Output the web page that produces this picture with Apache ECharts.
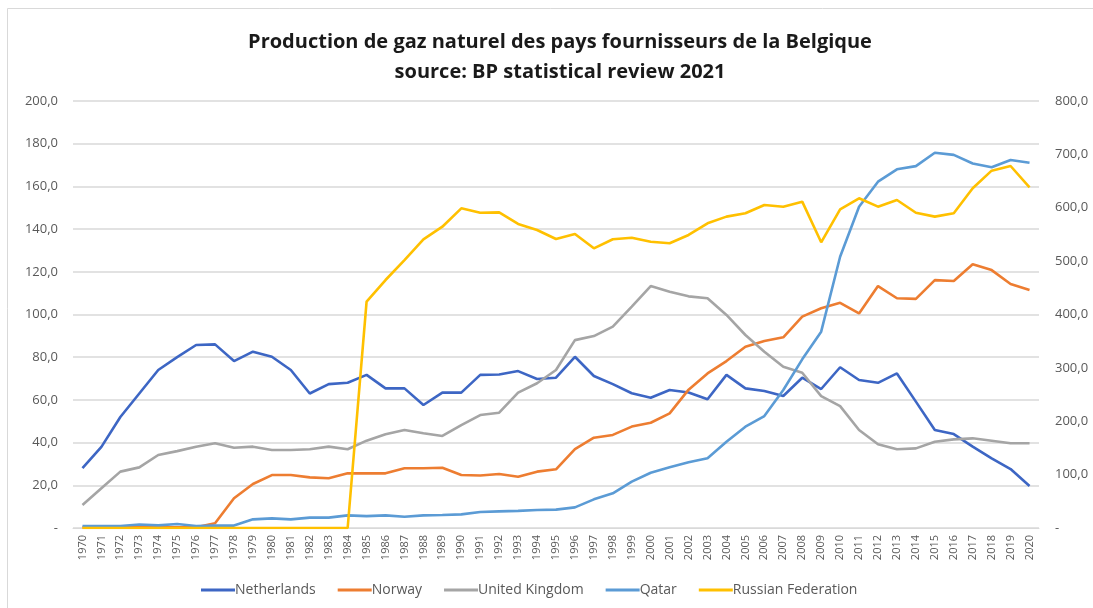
<!DOCTYPE html>
<html>
<head>
<meta charset="utf-8">
<script src="https://cdn.jsdelivr.net/npm/echarts@6/dist/echarts.min.js"></script>
<style>
  html, body { margin: 0; padding: 0; background: #fff; }
  #chart { width: 1093px; height: 608px; }
</style>
</head>
<body>
<div id="chart"></div>
<script>
// years 1970..2020
const years = []
for (let y = 1970; y <= 2020; y++) years.push(String(y))

// left axis (0-200)
const netherlands = [28.0, 38.0, 52.0, 63.0, 74.0, 80.0, 85.7, 86.0, 78.2, 82.6, 80.2, 74.0, 63.0, 67.4, 68.0, 71.7,
  65.4, 65.4, 57.6, 63.4, 63.4, 71.7, 71.9, 73.5, 69.8, 70.4, 80.2, 71.2, 67.4, 63.1, 61.0, 64.6, 63.5,
  60.3, 71.7, 65.4, 64.2, 61.8, 70.4, 65.1, 75.3, 69.3, 68.0, 72.4, 59.2, 45.9, 44.0, 38.1, 32.6, 27.6, 19.7]
const norway = [0.3, 0.3, 0.3, 0.3, 0.3, 0.3, 0.3, 2.2, 13.9, 20.6, 24.8, 24.8, 23.7, 23.3, 25.6, 25.6,
  25.6, 28.0, 28.0, 28.2, 24.8, 24.6, 25.3, 24.0, 26.4, 27.5, 36.9, 42.3, 43.6, 47.5, 49.3, 53.7, 64.8,
  72.4, 78.2, 84.9, 87.6, 89.3, 99.0, 102.9, 105.5, 100.5, 113.3, 107.6, 107.3, 116.1, 115.7, 123.5, 120.8, 114.3, 111.5]
const unitedKingdom = [10.8, 18.6, 26.4, 28.4, 34.2, 36.0, 38.1, 39.7, 37.6, 38.1, 36.5, 36.5, 36.9, 38.1, 36.9, 40.9,
  43.9, 45.9, 44.4, 43.1, 48.2, 52.9, 54.0, 63.4, 67.8, 74.0, 88.0, 89.9, 94.3, 103.7, 113.3, 110.7, 108.5,
  107.6, 99.8, 90.4, 82.6, 75.5, 72.7, 61.8, 57.1, 45.9, 39.2, 36.9, 37.3, 40.4, 41.5, 42.0, 40.9, 39.7, 39.7]

// right axis (0-800)
const qatar = [3.7, 3.7, 3.7, 6.5, 5.0, 7.5, 3.7, 4.5, 4.5, 16.2, 18.0, 16.2, 19.4, 19.5, 23.7, 22.3,
  23.7, 21.2, 23.7, 24.4, 25.6, 30.0, 31.2, 32.0, 33.7, 34.4, 38.7, 53.7, 65.0, 86.8, 103.6, 113.7, 123.0,
  130.6, 161.7, 189.8, 209.8, 258.5, 316.0, 367.8, 508.3, 602.0, 648.8, 672.0, 678.0, 703.0, 699.0, 683.0, 675.8, 689.5, 684.4]
const russia = [0, 0, 0, 0, 0, 0, 0, 0, 0, 0, 0, 0, 0, 0, 0, 424.0,
  464.6, 502.0, 540.9, 564.5, 598.9, 590.7, 591.4, 569.6, 558.3, 541.4, 550.8, 524.0, 540.9, 543.9, 536.4, 533.4, 549.0,
  570.9, 583.4, 589.6, 605.2, 602.0, 611.4, 535.3, 597.1, 617.7, 602.0, 614.5, 590.7, 583.4, 589.6, 636.5, 669.5, 678.2, 638.3]

const leftTicks = { min: 0, max: 200, interval: 20 }
const rightTicks = { min: 0, max: 800, interval: 100 }

const fontFamily = '"Open Sans", "Liberation Sans", sans-serif'
const textColor = '#595959'

function fmt(v) {
  return v === 0 ? '-' : v.toFixed(1).replace('.', ',')
}

const chart = echarts.init(document.getElementById('chart'))

function line(name, data, color, yAxisIndex) {
  return {
    name,
    type: 'line',
    data,
    yAxisIndex,
    symbol: 'none',
    smooth: false,
    lineStyle: { color, width: 2.6 },
    itemStyle: { color },
  }
}

chart.setOption({
  animation: false,
  backgroundColor: '#fff',
  graphic: [{
    type: 'rect',
    shape: { x: 7.5, y: 8.5, width: 1200, height: 700 },
    style: { fill: 'none', stroke: '#d9d9d9', lineWidth: 1 },
    silent: true,
  }],
  title: {
    text: 'Production de gaz naturel des pays fournisseurs de la Belgique\nsource: BP statistical review 2021',
    left: 555,
    textAlign: 'center',
    top: 22,
    textStyle: {
      fontFamily,
      fontSize: 20,
      fontWeight: 'bold',
      color: '#1a1a1a',
      lineHeight: 30,
    },
  },
  legend: {
    bottom: 6,
    left: 196,
    icon: 'rect',
    itemWidth: 34,
    itemHeight: 3,
    itemGap: 22,
    textStyle: { fontFamily, fontSize: 14, color: textColor, padding: [0, 0, 0, -5] },
    data: ['Netherlands', 'Norway', 'United Kingdom', 'Qatar', 'Russian Federation'],
  },
  grid: { left: 73, right: 54, top: 101, bottom: 80 },
  xAxis: {
    type: 'category',
    data: years,
    boundaryGap: true,
    axisLine: { lineStyle: { color: '#d9d9d9', width: 1 } },
    axisTick: { show: false },
    axisLabel: {
      rotate: 90,
      interval: 0,
      fontFamily,
      fontSize: 11,
      color: textColor,
      margin: 7,
    },
  },
  yAxis: [{
    type: 'value',
    ...leftTicks,
    position: 'left',
    axisLine: { show: false },
    axisTick: { show: false },
    splitLine: { lineStyle: { color: '#d9d9d9', width: 1.5 } },
    axisLabel: { formatter: fmt, fontFamily, fontSize: 13, color: textColor, margin: 15 },
  }, {
    type: 'value',
    ...rightTicks,
    position: 'right',
    axisLine: { show: false },
    axisTick: { show: false },
    splitLine: { show: false },
    axisLabel: { formatter: fmt, fontFamily, fontSize: 13, color: textColor, margin: 16 },
  }],
  series: [
    line('Netherlands', netherlands, '#3d66c4', 0),
    line('Norway', norway, '#ed7d31', 0),
    line('United Kingdom', unitedKingdom, '#a5a5a5', 0),
    line('Qatar', qatar, '#5b9bd5', 1),
    line('Russian Federation', russia, '#ffc000', 1),
  ],
})
</script>
</body>
</html>
